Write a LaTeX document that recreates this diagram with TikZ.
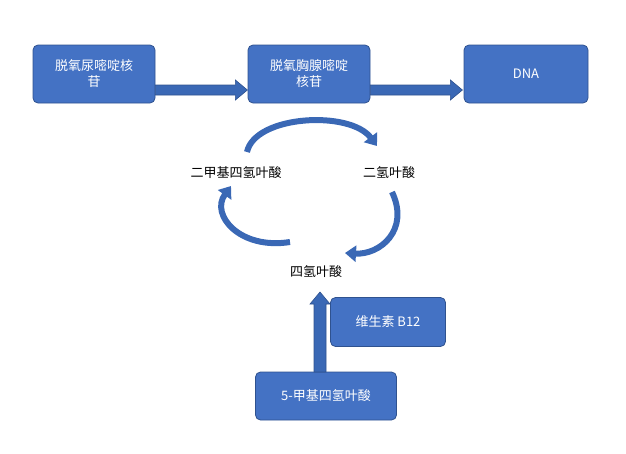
\documentclass[tikz,border=0pt]{standalone}
\usepackage{fontspec}
\setmainfont{Noto Sans CJK SC}
\usetikzlibrary{arrows.meta}
\definecolor{bfill}{HTML}{4472C4}
\definecolor{bdraw}{HTML}{2F528F}
\definecolor{arr}{HTML}{3A68B5}
\begin{document}
\begin{tikzpicture}[x=1pt,y=-1pt,
  box/.style={draw=bdraw,fill=bfill,rounded corners=5pt,text=white,align=center,font=\fontsize{13}{16}\selectfont,line width=0.8pt},
  lab/.style={font=\fontsize{13}{16}\selectfont},
  blk/.style={fill=arr,draw=bdraw,line width=0.6pt},
  carr/.style={draw=arr,line width=6pt,-{Triangle[width=16pt,length=11pt]}}]
\useasboundingbox (0,0) rectangle (626,453);
\node[box,minimum width=122pt,minimum height=58pt,text width=110pt] (a) at (94,74) {脱氧尿嘧啶核\\苷};
\node[box,minimum width=122pt,minimum height=58pt,text width=110pt] (b) at (309,74) {脱氧胸腺嘧啶\\核苷};
\node[box,minimum width=124pt,minimum height=58pt] (c) at (526,74) {DNA};
\node[lab] (d) at (236,173) {二甲基四氢叶酸};
\node[lab] (e) at (389,173) {二氢叶酸};
\node[lab] (f) at (316,272) {四氢叶酸};
\node[box,minimum width=115pt,minimum height=49pt] (g) at (388,322) {维生素 B12};
\node[box,minimum width=141pt,minimum height=48pt] (h) at (326,396) {5-甲基四氢叶酸};
% block arrows
\path[blk] (a.east)+(0,11) -- ++(80,11) -- ++(0,-5) -- ++(12,10) -- ++(-12,10) -- ++(0,-5) -- ++(-80,0) -- cycle;
\path[blk] (b.east)+(0,11) -- ++(80,11) -- ++(0,-5) -- ++(12,10) -- ++(-12,10) -- ++(0,-5) -- ++(-80,0) -- cycle;
\path[blk] (314,372) -- (314,304) -- (310,304) -- (320,292) -- (330,304) -- (326,304) -- (326,372) -- cycle;
% curved arrows
\draw[carr] (247,152) .. controls (255,115) and (350,110) .. (377,146);
\draw[carr] (392,192) .. controls (410,230) and (380,255) .. (345,253);
\draw[carr] (290,242) .. controls (240,250) and (210,215) .. (231,186);
\end{tikzpicture}
\end{document}
